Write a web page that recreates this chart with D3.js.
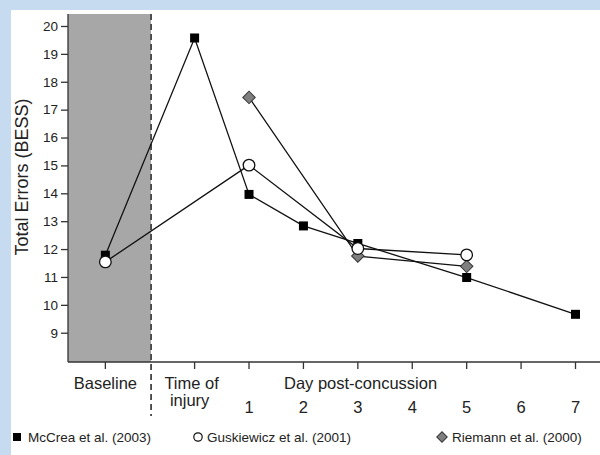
<!DOCTYPE html>
<html><head><meta charset="utf-8">
<script src="https://cdn.jsdelivr.net/npm/d3@7"></script>
<style>body{margin:0;}svg{display:block;}</style>
</head><body>
<svg id="chart" width="600" height="455"></svg>
<script>
// ---- data ----
const categories = ["Baseline", "Time of injury", "1", "2", "3", "4", "5", "6", "7"];
const mccrea     = [11.78, 19.57, 13.96, 12.83, 12.2, null, 10.98, null, 9.66];
const guskiewicz = [11.54, null, 15.01, null, 12.02, null, 11.79, null, null];
const riemann    = [null, null, 17.44, null, 11.75, null, 11.38, null, null];
const yTicks = [9, 10, 11, 12, 13, 14, 15, 16, 17, 18, 19, 20];
const seriesNames = ["McCrea et al. (2003)", "Guskiewicz et al. (2001)", "Riemann et al. (2000)"];

// ---- layout ----
const svg = d3.select("#chart");
const font = "'Liberation Sans', Arial, sans-serif";
const axL = 68, axB = 362, axT = 14, axR = 600;
const dayScale = d3.scaleLinear().domain([0, 7]).range([194.6, 575.5]);
const unit = dayScale(1) - dayScale(0);
const catPos = categories.map((c, i) => i === 0 ? dayScale(0) - 1.64 * unit : dayScale(i - 1));
const x = d3.scaleOrdinal().domain(categories).range(catPos);
const y = d3.scaleLinear().domain([7.95, 20.43]).range([axB, axT]);
const shadeRight = dayScale(0) - 0.8 * unit;

svg.append("rect").attr("width", 600).attr("height", 455).attr("fill", "#c6dbf0");
svg.append("rect").attr("x", 11).attr("y", 10).attr("width", 589).attr("height", 445).attr("fill", "#ffffff");

// shaded baseline region
svg.append("rect").attr("x", axL).attr("y", axT).attr("width", shadeRight - axL).attr("height", axB - axT)
  .attr("fill", "#a7a7a7");
svg.append("line").attr("x1", shadeRight).attr("x2", shadeRight).attr("y1", axT).attr("y2", 416)
  .attr("stroke", "#444").attr("stroke-width", 1.8).attr("stroke-dasharray", "6,4");

// y axis
const yAxis = svg.append("g").attr("transform", `translate(${axL},0)`)
  .call(d3.axisLeft(y).tickValues(yTicks).tickSize(7).tickSizeOuter(0).tickPadding(3));
yAxis.select(".domain").remove();
yAxis.append("line").attr("x1", 0).attr("x2", 0).attr("y1", axT).attr("y2", axB).attr("stroke", "#333").attr("stroke-width", 1.3);
yAxis.selectAll(".tick line").attr("stroke", "#333").attr("stroke-width", 1.3);
yAxis.selectAll(".tick text").attr("font-family", font).attr("font-size", 13.5).attr("fill", "#222");

// x axis
const xAxis = svg.append("g").attr("transform", `translate(0,${axB})`);
xAxis.append("line").attr("x1", axL).attr("x2", axR).attr("y1", 0).attr("y2", 0).attr("stroke", "#333").attr("stroke-width", 1.3);
xAxis.selectAll(".xt").data(categories).enter().append("line")
  .attr("x1", d => x(d)).attr("x2", d => x(d)).attr("y1", 0).attr("y2", 7)
  .attr("stroke", "#333").attr("stroke-width", 1.3);
const lab = (txt, px, py, anchor) => svg.append("text").attr("x", px).attr("y", py)
  .attr("text-anchor", anchor || "middle").attr("font-family", font).attr("font-size", 16.5).attr("fill", "#222").text(txt);
lab("Baseline", x("Baseline"), 389);
lab("Time of", x("Time of injury") - 3, 389);
lab("injury", x("Time of injury") - 5, 406);
categories.slice(2).forEach(c => lab(c, x(c), 413));
lab("Day post-concussion", dayScale(3.05), 389);

// y label
svg.append("text").attr("transform", `translate(28,${177}) rotate(-90)`).attr("text-anchor", "middle")
  .attr("font-family", font).attr("font-size", 18).attr("fill", "#222").text("Total Errors (BESS)");

// lines
const lineGen = d3.line().x(d => x(d.c)).y(d => y(d.v));
const toPts = arr => arr.map((v, i) => ({c: categories[i], v})).filter(d => d.v !== null);
[mccrea, riemann, guskiewicz].forEach(arr => {
  svg.append("path").datum(toPts(arr)).attr("d", lineGen).attr("fill", "none")
    .attr("stroke", "#111").attr("stroke-width", 1.3);
});

// markers
const sq = 9;
svg.selectAll(".mc").data(toPts(mccrea)).enter().append("rect")
  .attr("x", d => x(d.c) - sq / 2).attr("y", d => y(d.v) - sq / 2).attr("width", sq).attr("height", sq)
  .attr("fill", "#000");
svg.selectAll(".ri").data(toPts(riemann)).enter().append("path")
  .attr("d", d3.symbol().type(d3.symbolSquare).size(78))
  .attr("transform", d => `translate(${x(d.c)},${y(d.v)}) rotate(45)`)
  .attr("fill", "#7f7f7f").attr("stroke", "#333").attr("stroke-width", 1);
svg.selectAll(".gu").data(toPts(guskiewicz)).enter().append("circle")
  .attr("cx", d => x(d.c)).attr("cy", d => y(d.v)).attr("r", 5.8)
  .attr("fill", "#fff").attr("stroke", "#111").attr("stroke-width", 1.3);

// legend
const legY = 437;
const lg = svg.append("g");
lg.append("rect").attr("x", 13).attr("y", legY - 4).attr("width", 8).attr("height", 8).attr("fill", "#000");
lg.append("circle").attr("cx", 198).attr("cy", legY).attr("r", 4.2).attr("fill", "#fff").attr("stroke", "#111").attr("stroke-width", 1.2);
lg.append("path").attr("d", d3.symbol().type(d3.symbolSquare).size(55)).attr("transform", `translate(442,${legY}) rotate(45)`)
  .attr("fill", "#7f7f7f").attr("stroke", "#333").attr("stroke-width", 1);
const legX = [28, 207, 452];
seriesNames.forEach((n, i) => {
  lg.append("text").attr("x", legX[i]).attr("y", legY + 5).attr("font-family", font).attr("font-size", 13.5)
    .attr("fill", "#222").text(n);
});
</script>
</body></html>
